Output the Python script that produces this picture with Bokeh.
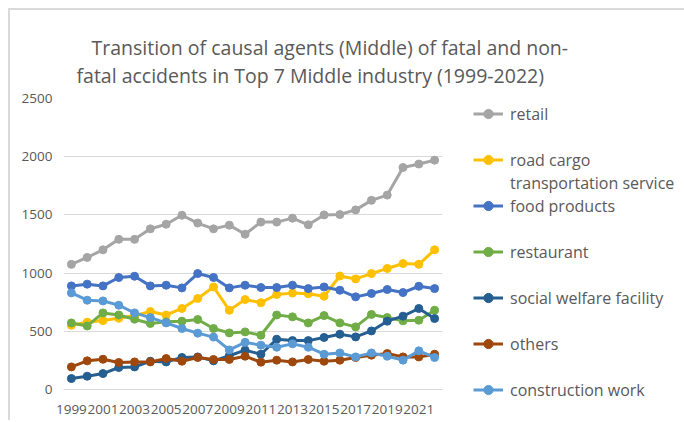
from bokeh.plotting import figure
from bokeh.models import (ColumnDataSource, FixedTicker, Legend, LegendItem, Range1d, Title)
from bokeh.embed import file_html
from bokeh.resources import INLINE

years = [1999, 2000, 2001, 2002, 2003, 2004, 2005, 2006, 2007, 2008, 2009, 2010,
         2011, 2012, 2013, 2014, 2015, 2016, 2017, 2018, 2019, 2020, 2021, 2022]
x_tick_labels = [1999, 2001, 2003, 2005, 2007, 2009, 2011, 2013, 2015, 2017, 2019, 2021]
y_ticks = [0, 500, 1000, 1500, 2000, 2500]

retail = [1075, 1135, 1200, 1290, 1290, 1380, 1420, 1497, 1430, 1380, 1412, 1334,
          1438, 1438, 1472, 1415, 1500, 1503, 1543, 1625, 1670, 1907, 1937, 1970]
road_cargo = [552, 578, 592, 612, 635, 670, 640, 696, 782, 881, 681, 773,
              746, 816, 828, 823, 801, 975, 950, 996, 1040, 1082, 1075, 1200]
food_products = [890, 905, 890, 962, 973, 890, 896, 873, 996, 962, 873, 896,
                 876, 876, 896, 867, 881, 853, 796, 825, 859, 833, 887, 867]
restaurant = [572, 546, 658, 640, 604, 567, 581, 587, 601, 524, 486, 495,
              466, 640, 624, 572, 635, 572, 538, 645, 618, 590, 595, 681]
social_welfare = [94, 114, 137, 189, 194, 243, 237, 275, 280, 246, 290, 338,
                  303, 432, 420, 420, 447, 475, 452, 503, 587, 630, 696, 610]
others = [194, 246, 260, 232, 237, 237, 266, 243, 275, 258, 258, 286,
          235, 252, 237, 258, 243, 252, 275, 295, 309, 280, 280, 303]
construction = [830, 767, 761, 724, 658, 618, 572, 524, 484, 450, 340, 405,
                381, 363, 392, 363, 303, 314, 280, 314, 286, 252, 332, 275]

series_names = ["retail", "road cargo", "food products", "restaurant",
                "social welfare facility", "others", "construction work"]
series_values = [retail, road_cargo, food_products, restaurant,
                 social_welfare, others, construction]
colors = ["#A5A5A5", "#FFC000", "#4472C4", "#70AD47", "#255E91", "#9E480E", "#5B9BD5"]
title_lines = ["Transition of causal agents (Middle) of fatal and non-",
               "fatal accidents in Top 7 Middle industry (1999-2022)"]
legend_extra_line = "transportation service"

FONT = "Open Sans"
TXT = "#595959"
GRID = "#D9D9D9"

p = figure(frame_width=379, frame_height=291, output_backend="svg", toolbar_location=None,
           x_range=Range1d(1998.5, 2022.5), y_range=Range1d(0, 2500),
           min_border_left=53, min_border_right=240, min_border_top=88,
           min_border_bottom=31, outline_line_color=None,
           styles={"margin-left": "8px", "margin-top": "8px",
                   "border-top": "2px solid #D9D9D9", "border-left": "2px solid #D9D9D9"})

p.xgrid.grid_line_color = None
p.ygrid.grid_line_color = GRID
p.ygrid.grid_line_width = 1
p.yaxis.ticker = FixedTicker(ticks=y_ticks)
p.xaxis.ticker = FixedTicker(ticks=x_tick_labels)
p.xaxis.minor_tick_line_color = None
p.yaxis.minor_tick_line_color = None
p.yaxis.axis_line_color = None
p.yaxis.major_tick_line_color = None
p.yaxis.major_tick_out = 0
p.yaxis.major_tick_in = 0
p.yaxis.major_label_standoff = 11
p.xaxis.axis_line_color = GRID
p.xaxis.major_tick_line_color = None
p.xaxis.major_tick_out = 0
p.xaxis.major_tick_in = 0
p.xaxis.major_label_standoff = 15
for ax in (p.xaxis, p.yaxis):
    ax.major_label_text_font = FONT
    ax.major_label_text_font_size = "13.5px"
    ax.major_label_text_color = TXT

series_renderers = {}
for name, vals, c in zip(series_names, series_values, colors):
    src = ColumnDataSource(dict(x=years, y=vals))
    lr = p.line("x", "y", source=src, line_color=c, line_width=3)
    sr = p.scatter("x", "y", source=src, size=8, fill_color=c, line_color=c)
    series_renderers[name] = [lr, sr]

# invisible renderer used for text-only / spacer rows of the legend
blank = p.line(x=[], y=[], line_alpha=0)

rows = [("retail", series_renderers["retail"]),
        (" ", [blank]),
        ("road cargo", series_renderers["road cargo"]),
        (legend_extra_line, [blank]),
        ("food products", series_renderers["food products"]),
        (" ", [blank]),
        ("restaurant", series_renderers["restaurant"]),
        (" ", [blank]),
        ("social welfare facility", series_renderers["social welfare facility"]),
        (" ", [blank]),
        ("others", series_renderers["others"]),
        (" ", [blank]),
        ("construction work", series_renderers["construction work"])]

legend = Legend(items=[LegendItem(label=lab, renderers=r) for lab, r in rows],
                location=(31, -12), glyph_width=30, glyph_height=23,
                label_height=23, label_standoff=7, padding=0, margin=0,
                spacing=0, border_line_color=None, background_fill_alpha=0,
                label_text_font=FONT, label_text_font_size="16px",
                label_text_color=TXT, label_text_baseline="middle")
p.add_layout(legend, "right")

# title: second line closest to the frame, added first
p.add_layout(Title(text=title_lines[1], align="left", offset=13, standoff=20,
                   vertical_align="bottom", text_font=FONT, text_font_size="19.5px",
                   text_color=TXT, text_font_style="normal"), "above")
p.add_layout(Title(text=title_lines[0], align="left", offset=28, standoff=-22,
                   vertical_align="bottom", text_font=FONT, text_font_size="19.5px",
                   text_color=TXT, text_font_style="normal"), "above")

open("out.html", "w").write(file_html(p, INLINE))
